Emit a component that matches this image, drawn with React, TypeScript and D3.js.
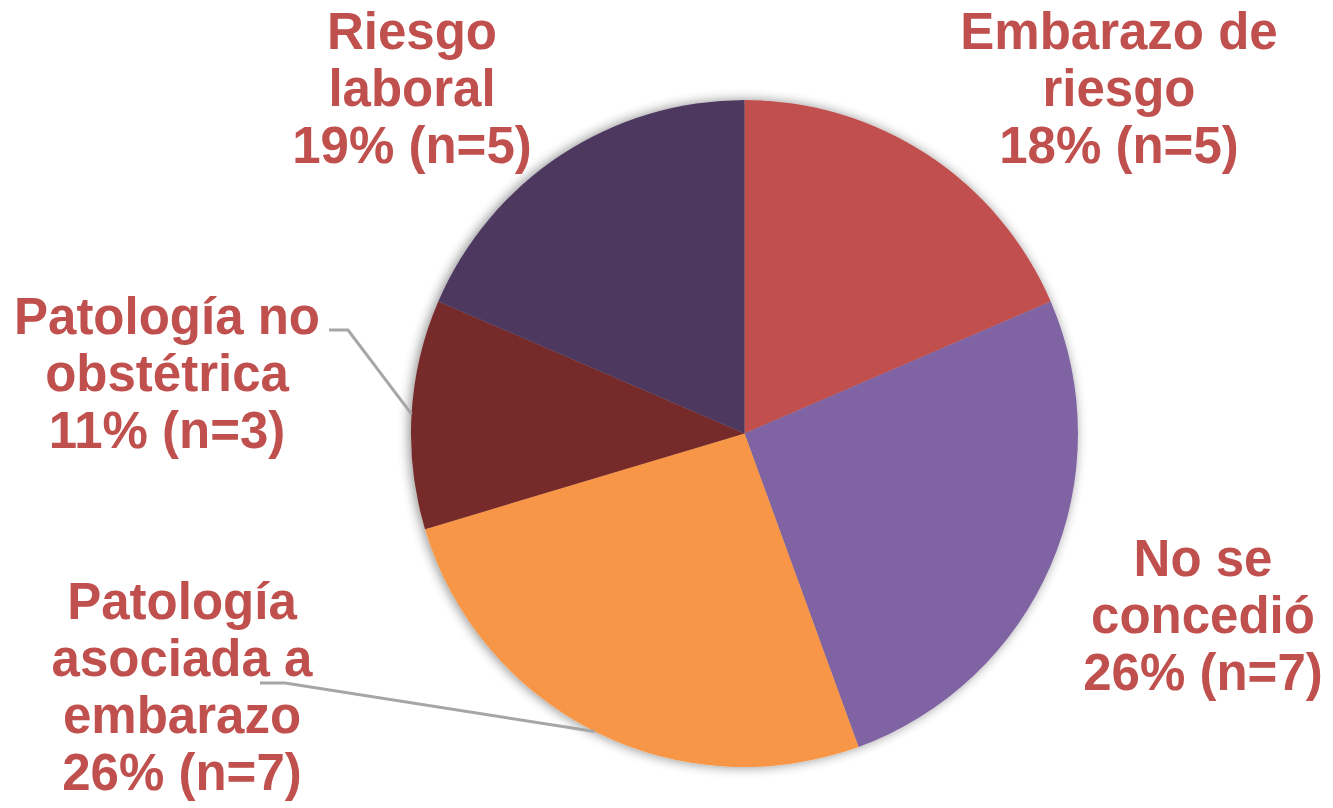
import React from "react";
import * as d3 from "d3";

const categories = [
  "Embarazo de riesgo",
  "No se concedió",
  "Patología asociada a embarazo",
  "Patología no obstétrica",
  "Riesgo laboral",
];
const counts = [5, 7, 7, 3, 5];
const percentLabels = ["18%", "26%", "26%", "11%", "19%"];
const colors = ["#C0504D", "#8064A2", "#F79646", "#772A29", "#4D3960"];
const labelLines = [
  ["Embarazo de", "riesgo"],
  ["No se", "concedió"],
  ["Patología", "asociada a", "embarazo"],
  ["Patología no", "obstétrica"],
  ["Riesgo", "laboral"],
];

const W = 1333;
const H = 808;
const CX = 744.5;
const CY = 433.5;
const R = 333.5;
const FONT = 51;
const LH = 57;

// label layout: center x, first baseline y, optional leader line anchor (text side)
const labelPos = [
  { x: 1119, y: 49 },
  { x: 1203, y: 576 },
  { x: 182, y: 619, leader: [[260, 683], [285, 683]] },
  { x: 167, y: 334, leader: [[329, 330], [348, 330]] },
  { x: 412, y: 49 },
];

export default function App() {
  const pie = d3.pie<number>().sort(null).value((d) => d);
  const arcs = pie(counts);
  const arc = d3.arc<d3.PieArcDatum<number>>().innerRadius(0).outerRadius(R);

  return (
    <svg width={W} height={H} style={{ position: "absolute", left: 0, top: 0, background: "#fff" }}>
      <defs>
        <filter id="shadow" x="-20%" y="-20%" width="140%" height="140%">
          <feGaussianBlur in="SourceAlpha" stdDeviation="6" />
          <feOffset dx="-2" dy="0" result="b" />
          <feComponentTransfer>
            <feFuncA type="linear" slope="0.45" />
          </feComponentTransfer>
          <feMerge>
            <feMergeNode />
            <feMergeNode in="SourceGraphic" />
          </feMerge>
        </filter>
      </defs>
      <g transform={`translate(${CX},${CY})`} filter="url(#shadow)">
        {arcs.map((a, i) => (
          <path key={i} d={arc(a) || ""} fill={colors[i]} />
        ))}
      </g>
      {arcs.map((a, i) => {
        const p = labelPos[i];
        if (!p.leader) return null;
        const mid = (a.startAngle + a.endAngle) / 2;
        const ex = CX + R * Math.sin(mid);
        const ey = CY - R * Math.cos(mid);
        const pts = [...p.leader, [ex, ey]];
        return (
          <polyline
            key={"l" + i}
            points={pts.map((q) => q.join(",")).join(" ")}
            fill="none"
            stroke="#A6A6A6"
            strokeWidth={3}
          />
        );
      })}
      {categories.map((c, i) => {
        const p = labelPos[i];
        const lines = [...labelLines[i], `${percentLabels[i]} (n=${counts[i]})`];
        return (
          <text
            key={c}
            x={p.x}
            y={p.y}
            textAnchor="middle"
            fill="#C0504D"
            fontFamily="'Liberation Sans', Arial, Helvetica, sans-serif"
            fontWeight="bold"
            fontSize={FONT}
          >
            {lines.map((t, j) => (
              <tspan key={j} x={p.x} y={p.y + j * LH}>
                {t}
              </tspan>
            ))}
          </text>
        );
      })}
    </svg>
  );
}
